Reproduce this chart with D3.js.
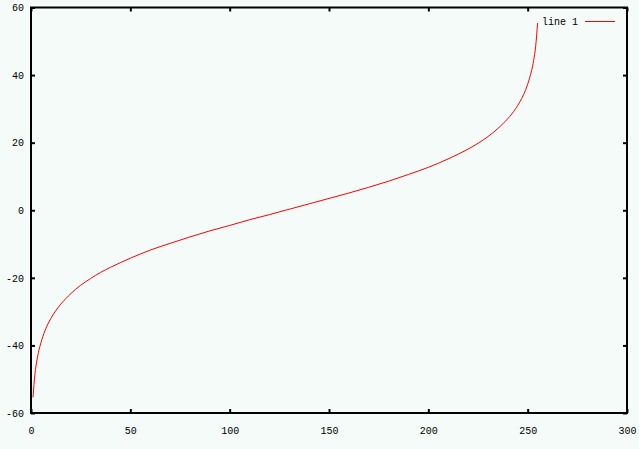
<html>
<head>
  <title>line 1</title>
  <script src="https://cdn.jsdelivr.net/npm/d3@7"></script>
  <style>
    body { margin: 0; background: #f5fbf8; }
    svg text { font-family: "Liberation Mono", "DejaVu Sans Mono", monospace; font-size: 10px; fill: #000; }
  </style>
</head>
<body>
<div id="chart"></div>
<script type="text/javascript">

// values
var xs = [1, 2, 3, 4, 5, 6, 8, 10, 12, 15, 20, 25, 30, 35, 40, 50, 60, 70, 80, 90,
          100, 110, 120, 128, 130, 140, 150, 160, 170, 180, 190, 200, 210, 220, 225,
          230, 235, 240, 244, 246, 248, 250, 251, 252, 253, 254, 255];
var ys = [-55.4, -48.4, -44.3, -41.4, -39.2, -37.3, -34.3, -32.0, -30.1, -27.8, -24.7,
          -22.2, -20.2, -18.4, -16.9, -14.2, -11.8, -9.8, -7.9, -6.1, -4.5, -2.8, -1.3,
          0, 0.3, 1.9, 3.5, 5.1, 6.8, 8.6, 10.6, 12.7, 15.2, 18.1, 19.8, 21.8, 24.2,
          27.1, 30.1, 32.0, 34.3, 37.3, 39.2, 41.4, 44.3, 48.4, 55.4];
var xTicks = [0, 50, 100, 150, 200, 250, 300];
var yTicks = [-60, -40, -20, 0, 20, 40, 60];
var seriesName = "line 1";

var w = 639, h = 449;
var padL = 31, padR = 627, padT = 7.5, padB = 413;

var svg = d3.select("#chart").append("svg")
  .attr("width", w).attr("height", h);

svg.append("rect").attr("width", w).attr("height", h).attr("fill", "#f5fbf8");

var x = d3.scaleLinear().domain([0, 300]).range([padL, padR]);
var y = d3.scaleLinear().domain([-60, 60]).range([padB, padT]);

//bottom axis with labels, ticks pointing inward
var gx = svg.append("g").attr("transform", "translate(0," + padB + ")")
  .call(d3.axisBottom(x).tickValues(xTicks).tickSizeInner(-4).tickSizeOuter(0).tickPadding(14));
var gy = svg.append("g").attr("transform", "translate(" + padL + ",0)")
  .call(d3.axisLeft(y).tickValues(yTicks).tickSizeInner(-4).tickSizeOuter(0).tickPadding(7));
// mirrored ticks
var gt = svg.append("g").attr("transform", "translate(0," + padT + ")")
  .call(d3.axisTop(x).tickValues(xTicks).tickSizeInner(-4).tickSizeOuter(0).tickFormat(""));
var gr = svg.append("g").attr("transform", "translate(" + padR + ",0)")
  .call(d3.axisRight(y).tickValues(yTicks).tickSizeInner(-4).tickSizeOuter(0).tickFormat(""));

[gx, gy, gt, gr].forEach(function(g) {
  g.select(".domain").remove();
  g.selectAll("line").attr("stroke", "#000").attr("stroke-width", 2);
  g.selectAll("text").attr("font-family", null).attr("font-size", null);
});
gy.selectAll("text").text(function(d) { return String(d); });

// border
svg.append("rect")
  .attr("x", padL).attr("y", padT)
  .attr("width", padR - padL).attr("height", padB - padT)
  .attr("fill", "none").attr("stroke", "#000").attr("stroke-width", 2);

var pts = xs.map(function(d, i) { return [d, ys[i]]; });
var line = d3.line()
  .x(function(d) { return x(d[0]); })
  .y(function(d) { return y(d[1]); })
  .curve(d3.curveMonotoneX);

svg.append("path").datum(pts)
  .attr("d", line)
  .attr("fill", "none")
  .attr("stroke", "#ff0000")
  .attr("stroke-width", 1);

// legend
svg.append("text").attr("x", 578).attr("y", 25).attr("text-anchor", "end").text(seriesName);
svg.append("line").attr("x1", 585).attr("x2", 615).attr("y1", 21.5).attr("y2", 21.5)
  .attr("stroke", "#ff0000").attr("stroke-width", 1);

</script>
</body>
</html>
